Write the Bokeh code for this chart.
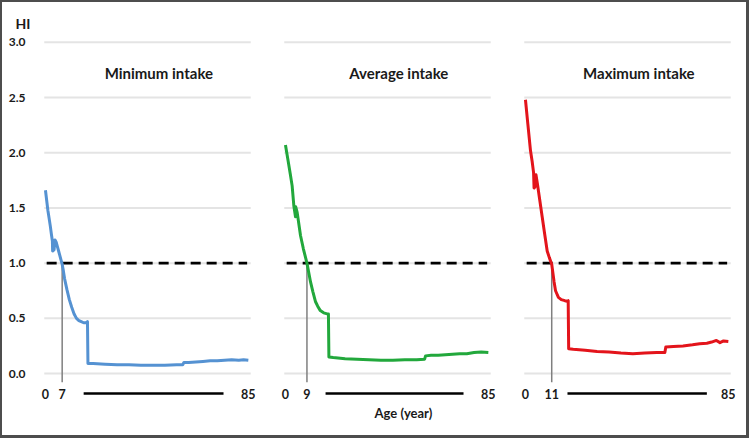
from bokeh.plotting import figure
from bokeh.layouts import row
from bokeh.models import Range1d, FixedTicker, NumeralTickFormatter
from bokeh.core.properties import value
from bokeh.embed import file_html
from bokeh.resources import INLINE

FONT = "Lato"

# ---- data ----
age_min = [0, 0.5, 1, 1.5, 2, 2.5, 2.9, 3.0, 3.6, 4.0, 4.5, 5.0, 5.5, 6.0, 6.5, 7.0, 7.5,
           8, 9, 10, 11, 12, 13, 14, 15, 16, 17, 17.6, 17.8, 20, 25, 30, 35, 40, 45, 50,
           55, 57.5, 58, 60, 63, 66, 69, 72, 75, 78, 81, 83, 85]
hi_min = [1.66, 1.57, 1.48, 1.41, 1.34, 1.26, 1.20, 1.11, 1.12, 1.21, 1.19, 1.15, 1.11,
          1.07, 1.03, 0.99, 0.93, 0.86, 0.76, 0.67, 0.60, 0.54, 0.50, 0.48, 0.47, 0.46,
          0.46, 0.47, 0.09, 0.09, 0.085, 0.08, 0.08, 0.075, 0.075, 0.075, 0.08, 0.08,
          0.10, 0.10, 0.105, 0.11, 0.115, 0.115, 0.12, 0.125, 0.12, 0.125, 0.12]

age_avg = [0, 1, 2, 2.8, 3.5, 4.2, 4.3, 4.9, 5.5, 6.3, 7.5, 9.0, 10.5, 11.5, 12.6, 13.5,
           14.6, 16, 17.5, 18.0, 18.2, 20, 25, 30, 35, 40, 45, 50, 55, 58.3, 58.7, 61,
           64, 67, 70, 73, 76, 79, 82, 85]
hi_avg = [2.07, 1.94, 1.81, 1.70, 1.52, 1.42, 1.51, 1.46, 1.37, 1.25, 1.13, 1.00, 0.83,
          0.74, 0.65, 0.61, 0.57, 0.55, 0.54, 0.54, 0.15, 0.145, 0.135, 0.13, 0.125,
          0.12, 0.12, 0.125, 0.125, 0.13, 0.16, 0.165, 0.165, 0.17, 0.175, 0.18, 0.18,
          0.19, 0.195, 0.19]

age_max = [0, 1, 2.1, 2.8, 3.4, 3.6, 4.2, 4.4, 5.0, 6.0, 7.0, 8.0, 9.1, 10.0, 11.0, 12.0,
           12.6, 13.8, 15, 16.5, 17.5, 17.9, 18.1, 20, 25, 30, 35, 40, 45, 50, 55, 58.4,
           58.8, 62, 66, 70, 73, 76, 78, 80, 81.5, 83, 85]
hi_max = [2.48, 2.26, 2.02, 1.92, 1.82, 1.68, 1.70, 1.80, 1.72, 1.57, 1.42, 1.27, 1.11,
          1.05, 0.99, 0.83, 0.75, 0.69, 0.67, 0.66, 0.655, 0.66, 0.225, 0.22, 0.21,
          0.20, 0.195, 0.185, 0.18, 0.185, 0.19, 0.19, 0.24, 0.245, 0.25, 0.26, 0.27,
          0.275, 0.285, 0.30, 0.28, 0.295, 0.29]

panel_titles = ["Minimum intake", "Average intake", "Maximum intake"]
cross_ages = [7, 9, 11]
y_ticks = [0.0, 0.5, 1.0, 1.5, 2.0, 2.5, 3.0]
threshold = 1.0
age_first, age_last = 0, 85
x_label = "Age (year)"
y_label = "HI"

series = [(age_min, hi_min, "#5592d2"),
          (age_avg, hi_avg, "#22a83c"),
          (age_max, hi_max, "#e3141b")]

# ---- layout / style ----
bar_spans = [(16.0, 74.6), (16.8, 74.6), (17.6, 76.0)]
widths = [265, 240, 239]
b_left = [37, 12, 12]
b_right = [12, 12, 11]
H = 433

x_range = Range1d(-2.5, 88)
y_range = Range1d(-0.516, 3.053)
label_y = -0.181

figs = []
for i in range(3):
    ages, hi, col = series[i]
    p = figure(width=widths[i], height=H, x_range=x_range, y_range=y_range,
               output_backend="svg", toolbar_location=None,
               x_axis_location=None,
               y_axis_location=("left" if i == 0 else None),
               min_border_left=b_left[i], min_border_right=b_right[i],
               min_border_top=34, min_border_bottom=5,
               title=(y_label if i == 0 else None))
    p.outline_line_color = None
    p.grid.visible = False
    p.background_fill_color = "white"
    p.border_fill_color = "white"

    # gridlines
    p.segment(x0=-0.5, x1=86, y0=y_ticks, y1=y_ticks, line_color="#e4e4e4", line_width=2)
    # threshold
    p.segment(x0=[0.5], x1=[84.5], y0=[threshold], y1=[threshold],
              line_color="black", line_width=2.6, line_dash="10 6")
    # vertical marker
    p.segment(x0=[cross_ages[i]], x1=[cross_ages[i]], y0=[threshold], y1=[-0.08],
              line_color="#7f7f7f", line_width=1.5)
    # curve
    p.line(ages, hi, line_color=col, line_width=3, line_join="round")
    # panel title
    p.text(x=[47.5], y=[2.72], text=[panel_titles[i]], text_font=value(FONT),
           text_font_style="bold", text_font_size="15px", text_align="center",
           text_baseline="middle", text_color="#1a1a1a")
    # age labels
    p.text(x=[age_first, cross_ages[i], age_last], y=[label_y] * 3,
           text=[str(age_first), str(cross_ages[i]), str(age_last)],
           text_font=value(FONT), text_font_style="bold", text_font_size="12.5px",
           text_align="center", text_baseline="middle", text_color="#1a1a1a")
    p.segment(x0=[bar_spans[i][0]], x1=[bar_spans[i][1]], y0=[label_y], y1=[label_y],
              line_color="black", line_width=2.5)
    if i == 1:
        p.text(x=[49.4], y=[-0.358], text=[x_label], text_font=value(FONT),
               text_font_style="bold", text_font_size="13px", text_align="center",
               text_baseline="middle", text_color="#1a1a1a")
    if i == 0:
        ax = p.yaxis[0]
        ax.ticker = FixedTicker(ticks=y_ticks)
        ax.formatter = NumeralTickFormatter(format="0.0")
        ax.axis_line_color = None
        ax.major_tick_line_color = None
        ax.minor_tick_line_color = None
        ax.major_label_standoff = 8
        ax.major_label_text_font = FONT
        ax.major_label_text_font_style = "bold"
        ax.major_label_text_font_size = "12px"
        ax.major_label_text_color = "#1a1a1a"
        p.title.align = "left"
        p.title.offset = -24
        p.title.text_font = FONT
        p.title.text_font_style = "bold"
        p.title.text_font_size = "14px"
        p.title.text_color = "#1a1a1a"
        p.title.standoff = 9
    figs.append(p)

layout = row(figs, styles={"border-style": "solid", "border-color": "#4d4d4d",
                           "border-width": "2px 3px 3px 2px"})
open("out.html", "w").write(file_html(layout, INLINE))
